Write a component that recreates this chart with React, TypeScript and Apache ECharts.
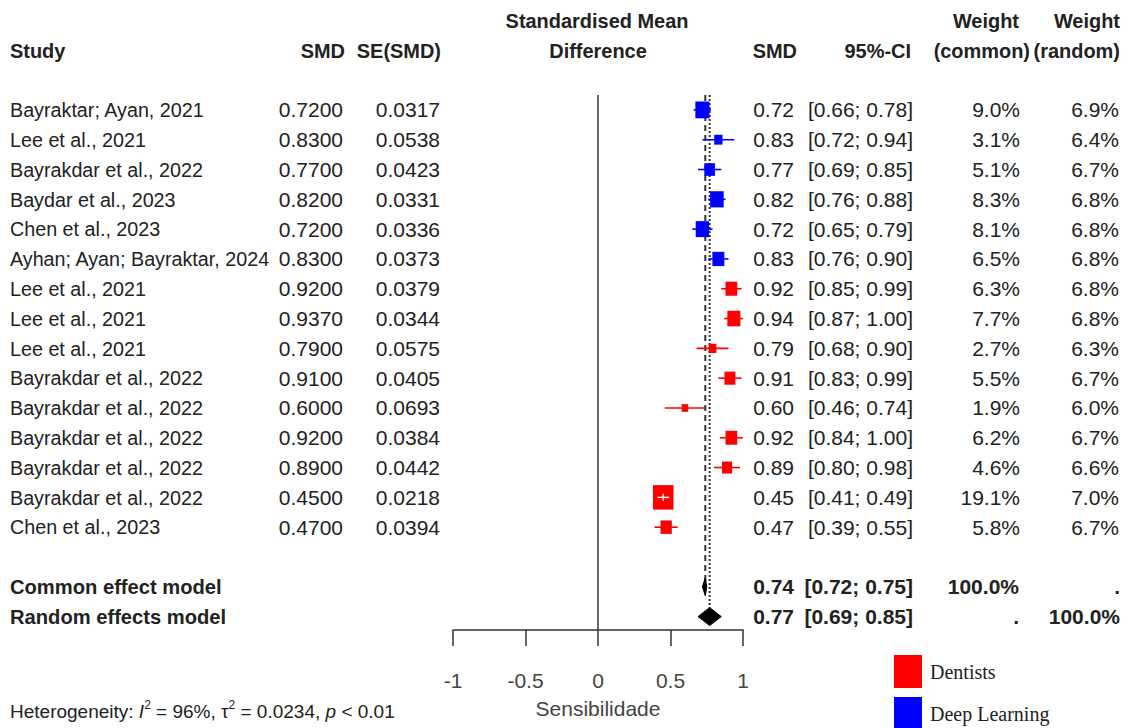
import React, { useEffect, useRef } from "react";
import * as echarts from "echarts";

const studies = [
  "Bayraktar; Ayan, 2021",
  "Lee et al., 2021",
  "Bayrakdar et al., 2022",
  "Baydar et al., 2023",
  "Chen et al., 2023",
  "Ayhan; Ayan; Bayraktar, 2024",
  "Lee et al., 2021",
  "Lee et al., 2021",
  "Lee et al., 2021",
  "Bayrakdar et al., 2022",
  "Bayrakdar et al., 2022",
  "Bayrakdar et al., 2022",
  "Bayrakdar et al., 2022",
  "Bayrakdar et al., 2022",
  "Chen et al., 2023",
];
const groups = [
  "Deep Learning", "Deep Learning", "Deep Learning", "Deep Learning", "Deep Learning", "Deep Learning",
  "Dentists", "Dentists", "Dentists", "Dentists", "Dentists", "Dentists", "Dentists", "Dentists", "Dentists",
];
const smd = [0.72, 0.83, 0.77, 0.82, 0.72, 0.83, 0.92, 0.937, 0.79, 0.91, 0.6, 0.92, 0.89, 0.45, 0.47];
const seSmd = [0.0317, 0.0538, 0.0423, 0.0331, 0.0336, 0.0373, 0.0379, 0.0344, 0.0575, 0.0405, 0.0693, 0.0384, 0.0442, 0.0218, 0.0394];
const ciLower = [0.66, 0.72, 0.69, 0.76, 0.65, 0.76, 0.85, 0.87, 0.68, 0.83, 0.46, 0.84, 0.8, 0.41, 0.39];
const ciUpper = [0.78, 0.94, 0.85, 0.88, 0.79, 0.9, 0.99, 1.0, 0.9, 0.99, 0.74, 1.0, 0.98, 0.49, 0.55];
const weightCommon = [9.0, 3.1, 5.1, 8.3, 8.1, 6.5, 6.3, 7.7, 2.7, 5.5, 1.9, 6.2, 4.6, 19.1, 5.8];
const weightRandom = [6.9, 6.4, 6.7, 6.8, 6.8, 6.8, 6.8, 6.8, 6.3, 6.7, 6.0, 6.7, 6.6, 7.0, 6.7];

const summaryNames = ["Common effect model", "Random effects model"];
const summaryEst = [0.74, 0.77];
const summaryLower = [0.72, 0.69];
const summaryUpper = [0.75, 0.85];

const xTicks = [-1, -0.5, 0, 0.5, 1];
const heterogeneity = { i2: "96%", tau2: "0.0234", p: "< 0.01" };
const legendNames = ["Dentists", "Deep Learning"];

const SANS = "'Liberation Sans', Arial, Helvetica, sans-serif";
const SERIF = "'Liberation Serif', 'Times New Roman', serif";
const FS = 21;
const TXT = "#222";

const groupColors: Record<string, string> = { Dentists: "#ff0000", "Deep Learning": "#0000ff" };

type Cell = { text: string; x: number; align: string; bold?: boolean; rich?: boolean; sx?: number };

export default function App() {
  const ref = useRef<HTMLDivElement>(null);

  useEffect(() => {
    if (!ref.current) return;
    const chart = echarts.init(ref.current, null, { renderer: "svg" });

    const fmt2 = (v: number) => v.toFixed(2);
    const rows: { row: number; cells: Cell[] }[] = [];
    rows.push({
      row: -3,
      cells: [
        { text: "Standardised Mean", x: 597, align: "center", bold: true, sx: 0.95 },
        { text: "Weight", x: 1019, align: "right", bold: true, sx: 0.95 },
        { text: "Weight", x: 1120, align: "right", bold: true, sx: 0.95 },
      ],
    });
    rows.push({
      row: -2,
      cells: [
        { text: "Study", x: 10, align: "left", bold: true, sx: 0.95 },
        { text: "SMD", x: 345, align: "right", bold: true, sx: 0.95 },
        { text: "SE(SMD)", x: 441, align: "right", bold: true, sx: 0.95 },
        { text: "Difference", x: 598, align: "center", bold: true, sx: 0.95 },
        { text: "SMD", x: 797, align: "right", bold: true, sx: 0.95 },
        { text: "95%-CI", x: 911, align: "right", bold: true, sx: 0.95 },
        { text: "(common)", x: 1030, align: "right", bold: true, sx: 0.95 },
        { text: "(random)", x: 1120, align: "right", bold: true, sx: 0.95 },
      ],
    });
    studies.forEach((s, i) => {
      rows.push({
        row: i,
        cells: [
          { text: s, x: 10, align: "left", sx: 0.94 },
          { text: smd[i].toFixed(4), x: 343, align: "right" },
          { text: seSmd[i].toFixed(4), x: 440, align: "right" },
          { text: fmt2(smd[i]), x: 794, align: "right" },
          { text: `[${fmt2(ciLower[i])}; ${fmt2(ciUpper[i])}]`, x: 913, align: "right" },
          { text: weightCommon[i].toFixed(1) + "%", x: 1020, align: "right" },
          { text: weightRandom[i].toFixed(1) + "%", x: 1119, align: "right" },
        ],
      });
    });
    summaryNames.forEach((n, k) => {
      rows.push({
        row: studies.length + 1 + k,
        cells: [
          { text: n, x: 10, align: "left", bold: true, sx: 0.96 },
          { text: fmt2(summaryEst[k]), x: 794, align: "right", bold: true },
          { text: `[${fmt2(summaryLower[k])}; ${fmt2(summaryUpper[k])}]`, x: 913, align: "right", bold: true },
          { text: k === 0 ? "100.0%" : ".", x: 1019, align: "right", bold: true },
          { text: k === 1 ? "100.0%" : ".", x: 1120, align: "right", bold: true },
        ],
      });
    });
    rows.push({
      row: 20.2,
      cells: [
        {
          text: `Heterogeneity: {i|I}{sup|2} = ${heterogeneity.i2}, τ{sup|2} = ${heterogeneity.tau2}, {i|p} ${heterogeneity.p}`,
          x: 10,
          align: "left",
          rich: true,
        },
      ],
    });

    const studySeries = legendNames.map((g) => ({
      name: g,
      type: "custom",
      itemStyle: { color: groupColors[g] },
      clip: false,
      z: 5,
      data: studies
        .map((_, i) => i)
        .filter((i) => groups[i] === g)
        .map((i) => [smd[i], ciLower[i], ciUpper[i], i, weightCommon[i]]),
      encode: { x: [0, 1, 2], y: 3 },
      renderItem: (params: any, api: any) => {
        const est = api.value(0), lo = api.value(1), hi = api.value(2), row = api.value(3), w = api.value(4);
        const c = api.coord([est, row]);
        const pl = api.coord([lo, row]);
        const ph = api.coord([hi, row]);
        const bw = 4.7 * Math.sqrt(w);
        const bh = 5.6 * Math.sqrt(w);
        const col = groupColors[g];
        const children: any[] = [
          { type: "line", shape: { x1: pl[0], y1: c[1], x2: ph[0], y2: c[1] }, style: { stroke: col, lineWidth: 1.6 } },
          { type: "rect", shape: { x: c[0] - bw / 2, y: c[1] - bh / 2, width: bw, height: bh }, style: { fill: col } },
        ];
        if (ph[0] - pl[0] < bw) {
          children.push(
            { type: "line", shape: { x1: pl[0], y1: c[1], x2: ph[0], y2: c[1] }, style: { stroke: "#fff", lineWidth: 1.4 } },
            { type: "line", shape: { x1: c[0], y1: c[1] - 3.5, x2: c[0], y2: c[1] + 3.5 }, style: { stroke: "#fff", lineWidth: 1.4 } }
          );
        }
        return { type: "group", children };
      },
    }));

    const legendBase = {
      orient: "vertical",
      left: 894,
      itemWidth: 28,
      itemHeight: 33,
      icon: "rect",
      padding: 0,
      selectedMode: false,
      textStyle: { fontFamily: SERIF, fontSize: 20, color: TXT, padding: [0, 0, 0, 3] },
    };

    const option: any = {
      animation: false,
      backgroundColor: "#fff",
      grid: { left: 453, right: 386, top: 95, bottom: 98, containLabel: false },
      xAxis: {
        type: "value",
        min: -1,
        max: 1,
        interval: 0.5,
        name: "Sensibilidade",
        nameLocation: "middle",
        nameGap: 68,
        nameTextStyle: { fontFamily: SANS, fontSize: FS, color: "#444" },
        axisLine: { show: true, onZero: false, lineStyle: { color: "#333", width: 1.5 } },
        axisTick: { show: true, length: 16, inside: false, lineStyle: { color: "#333", width: 1.5 } },
        axisLabel: {
          margin: 40,
          fontFamily: SANS,
          fontSize: FS,
          color: "#444",
          formatter: (v: number) => (xTicks.includes(v) ? String(v) : ""),
        },
        splitLine: { show: false },
      },
      yAxis: {
        type: "value",
        inverse: true,
        min: -0.5,
        max: 17.45,
        show: false,
        splitLine: { show: false },
      },
      legend: [
        { ...legendBase, top: 655, data: [legendNames[0]] },
        { ...legendBase, top: 697, data: [legendNames[1]] },
      ],
      series: [
        {
          type: "line",
          data: [[0, -0.5], [0, 17.45]],
          symbol: "none",
          silent: true,
          lineStyle: { color: "#333", width: 1.5 },
          z: 1,
        },
        {
          type: "line",
          data: [[summaryEst[0], -0.5], [summaryEst[0], studies.length + 1]],
          symbol: "none",
          silent: true,
          lineStyle: { color: "#333", width: 2, type: [6, 4] },
          z: 1,
        },
        {
          type: "line",
          data: [[summaryEst[1], -0.5], [summaryEst[1], studies.length + 2]],
          symbol: "none",
          silent: true,
          lineStyle: { color: "#333", width: 2, type: [2, 2] },
          z: 1,
        },
        ...studySeries,
        {
          type: "custom",
          clip: false,
          z: 6,
          data: summaryEst.map((e, k) => [e, summaryLower[k], summaryUpper[k], studies.length + 1 + k]),
          encode: { x: [0, 1, 2], y: 3 },
          renderItem: (params: any, api: any) => {
            const c = api.coord([api.value(0), api.value(3)]);
            const pl = api.coord([api.value(1), api.value(3)]);
            const ph = api.coord([api.value(2), api.value(3)]);
            const h = 9;
            return {
              type: "polygon",
              shape: { points: [[pl[0], c[1]], [c[0], c[1] - h], [ph[0], c[1]], [c[0], c[1] + h]] },
              style: { fill: "#000", stroke: "#000", lineWidth: 1 },
            };
          },
        },
        {
          type: "custom",
          clip: false,
          silent: true,
          z: 7,
          data: rows.map((r) => [0, r.row]),
          encode: { x: 0, y: 1 },
          renderItem: (params: any, api: any) => {
            const r = rows[params.dataIndex];
            const y = api.coord([0, r.row])[1];
            return {
              type: "group",
              children: r.cells.map((cell) => ({
                type: "text",
                x: cell.x,
                y,
                scaleX: cell.sx || 1,
                style: {
                  text: cell.text,
                  align: cell.align,
                  verticalAlign: "middle",
                  fontFamily: SANS,
                  fontSize: cell.rich ? 19 : FS,
                  fontWeight: cell.bold ? "bold" : "normal",
                  fill: TXT,
                  rich: cell.rich
                    ? {
                        i: { fontStyle: "italic", fontFamily: SANS, fontSize: 19, fill: TXT },
                        sup: { fontFamily: SANS, fontSize: 12, fill: TXT, padding: [0, 0, 14, 0] },
                      }
                    : undefined,
                },
              })),
            };
          },
        },
      ],
    };

    chart.setOption(option);
    return () => chart.dispose();
  }, []);

  return (
    <div
      ref={ref}
      style={{ position: "fixed", left: 0, top: 0, width: 1129, height: 728, background: "#fff" }}
    />
  );
}
